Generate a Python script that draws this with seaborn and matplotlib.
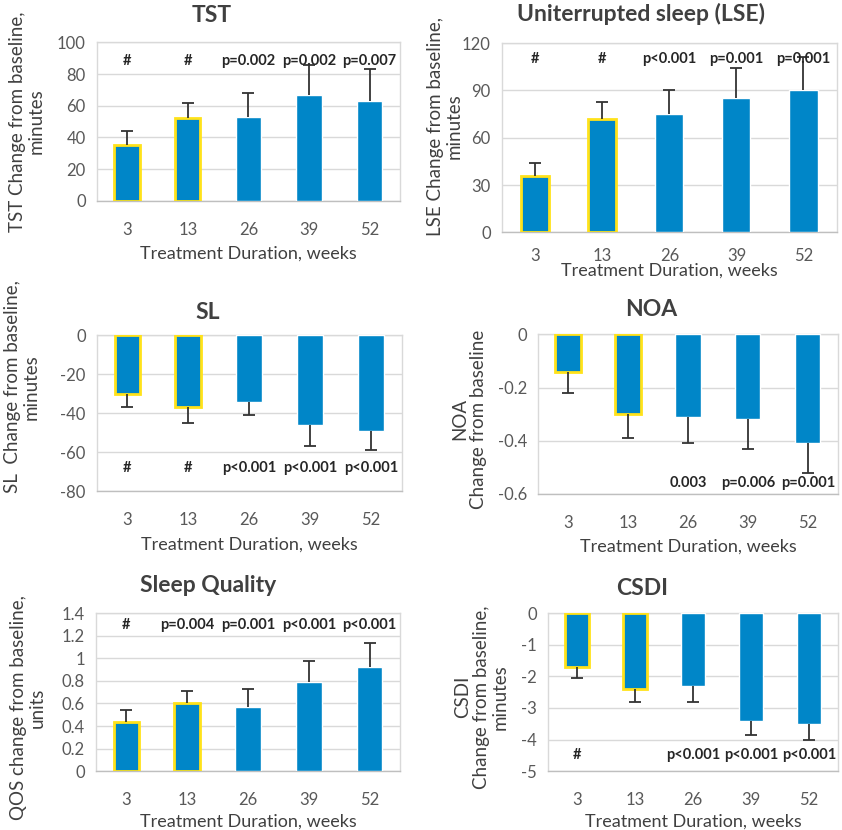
import numpy as np
import pandas as pd
import matplotlib
matplotlib.use("Agg")
import matplotlib.pyplot as plt
import seaborn as sns

sns.set_style("white")
plt.rcParams['font.family'] = ['Lato', 'DejaVu Sans']

weeks = ["3", "13", "26", "39", "52"]

tst = [35, 52, 53, 67, 63]
tst_err = [9, 10, 15, 19, 20]
tst_p = ["#", "#", "p=0.002", "p=0.002", "p=0.007"]

lse = [36, 72, 75, 85, 90]
lse_err = [8, 11, 15, 19, 21]
lse_p = ["#", "#", "p<0.001", "p=0.001", "p=0.001"]

sl = [-30, -37, -34, -46, -49]
sl_err = [7, 8, 7, 11, 10]
sl_p = ["#", "#", "p<0.001", "p<0.001", "p<0.001"]

noa = [-0.14, -0.30, -0.31, -0.32, -0.41]
noa_err = [0.08, 0.09, 0.10, 0.11, 0.11]
noa_p = ["", "", "0.003", "p=0.006", "p=0.001"]

qos = [0.44, 0.60, 0.57, 0.79, 0.92]
qos_err = [0.10, 0.11, 0.16, 0.19, 0.22]
qos_p = ["#", "p=0.004", "p=0.001", "p<0.001", "p<0.001"]

csdi = [-1.7, -2.4, -2.3, -3.4, -3.5]
csdi_err = [0.35, 0.4, 0.5, 0.45, 0.5]
csdi_p = ["#", "", "p<0.001", "p<0.001", "p<0.001"]

BLUE = "#0086C8"
YELLOW = "#FFE21A"
GRID = "#D9D9D9"
TXT = "#404040"

fig = plt.figure(figsize=(8.42, 8.30), dpi=100)


def panel(rect, vals, err, ptxt, p_y, ylim, yticks, ylabel, ylab_xy, title, title_xy,
          xlab_pad, xtick_pad=15):
    ax = fig.add_axes(rect)
    df = pd.DataFrame({"week": weeks, "val": vals})
    sns.barplot(data=df, x="week", y="val", color=BLUE, width=0.42, ax=ax,
                saturation=1, errorbar=None, zorder=3)
    for i, bar in enumerate(ax.patches):
        if i < 2:
            bar.set_edgecolor(YELLOW)
            bar.set_linewidth(2)
    v = np.array(vals)
    e = np.array(err)
    zeros = np.zeros_like(e)
    up = v[0] > 0
    yerr = [zeros, e] if up else [e, zeros]
    _, caps, _ = ax.errorbar(range(len(weeks)), v, yerr=yerr, fmt="none", ecolor="#333333",
                             elinewidth=1.3, capsize=4, capthick=1.3, zorder=4)
    # hide the cap sitting on the bar end
    caps[0 if up else 1].set_visible(False)
    for i, t in enumerate(ptxt):
        ax.text(i, p_y, t, ha="center", va="center", fontsize=10.5,
                fontweight="bold", color="#262626", zorder=5)
    ax.set_ylim(*ylim)
    ax.set_yticks(yticks)
    ax.set_yticklabels([f"{t:g}" for t in yticks])
    ax.set_xlim(-0.5, len(weeks) - 0.5)
    ax.yaxis.grid(True, color=GRID, linewidth=1, zorder=0)
    ax.set_axisbelow(True)
    for s in ax.spines.values():
        s.set_color(GRID)
        s.set_linewidth(1)
    ax.spines["bottom"].set_color("#BFBFBF")
    ax.tick_params(axis="both", length=0, labelsize=12, labelcolor="#595959")
    ax.tick_params(axis="x", pad=xtick_pad)
    ax.tick_params(axis="y", pad=8)
    ax.set_xlabel("Treatment Duration, weeks", fontsize=13, color=TXT, labelpad=xlab_pad)
    ax.set_ylabel(ylabel, fontsize=13.5, color=TXT, linespacing=1.1, va="center")
    ax.yaxis.set_label_coords(*ylab_xy)
    fig.text(title_xy[0], title_xy[1], title, ha="center", va="center",
             fontsize=16.5, fontweight="bold", color=TXT)
    return ax


panel([0.115, 0.758, 0.360, 0.191], tst, tst_err, tst_p, 88, (0, 100),
      [0, 20, 40, 60, 80, 100], "TST Change from baseline,\nminutes", (-0.23, 0.5),
      "TST", (212 / 842, 1 - 16 / 830), 6)

panel([0.596, 0.720, 0.398, 0.228], lse, lse_err, lse_p, 110, (0, 120),
      [0, 30, 60, 90, 120], "LSE Change from baseline,\nminutes", (-0.17, 0.56),
      "Uniterrupted sleep (LSE)", (641 / 842, 1 - 14 / 830), -1, 11)

panel([0.115, 0.408, 0.362, 0.188], sl, sl_err, sl_p, -68, (-80, 0),
      [-80, -60, -40, -20, 0], "SL  Change from baseline,\nminutes", (-0.246, 0.67),
      "SL", (208 / 842, 1 - 312 / 830), 6)

panel([0.639, 0.405, 0.356, 0.192], noa, noa_err, noa_p, -0.56, (-0.6, 0),
      [-0.6, -0.4, -0.2, 0], "NOA\nChange from baseline", (-0.23, 0.47),
      "NOA", (651 / 842, 1 - 310 / 830), 6)

panel([0.114, 0.071, 0.361, 0.190], qos, qos_err, qos_p, 1.3, (0, 1.4),
      [0, 0.2, 0.4, 0.6, 0.8, 1, 1.2, 1.4], "QOS change from baseline,\nunits", (-0.224, 0.40),
      "Sleep Quality", (208 / 842, 1 - 585 / 830), 4)

panel([0.651, 0.071, 0.344, 0.190], csdi, csdi_err, csdi_p, -4.5, (-5, 0),
      [-5, -4, -3, -2, -1, 0], "CSDI\nChange from baseline,\nminutes", (-0.23, 0.47),
      "CSDI", (642 / 842, 1 - 588 / 830), 4)

fig.savefig("out.png", dpi=100)
